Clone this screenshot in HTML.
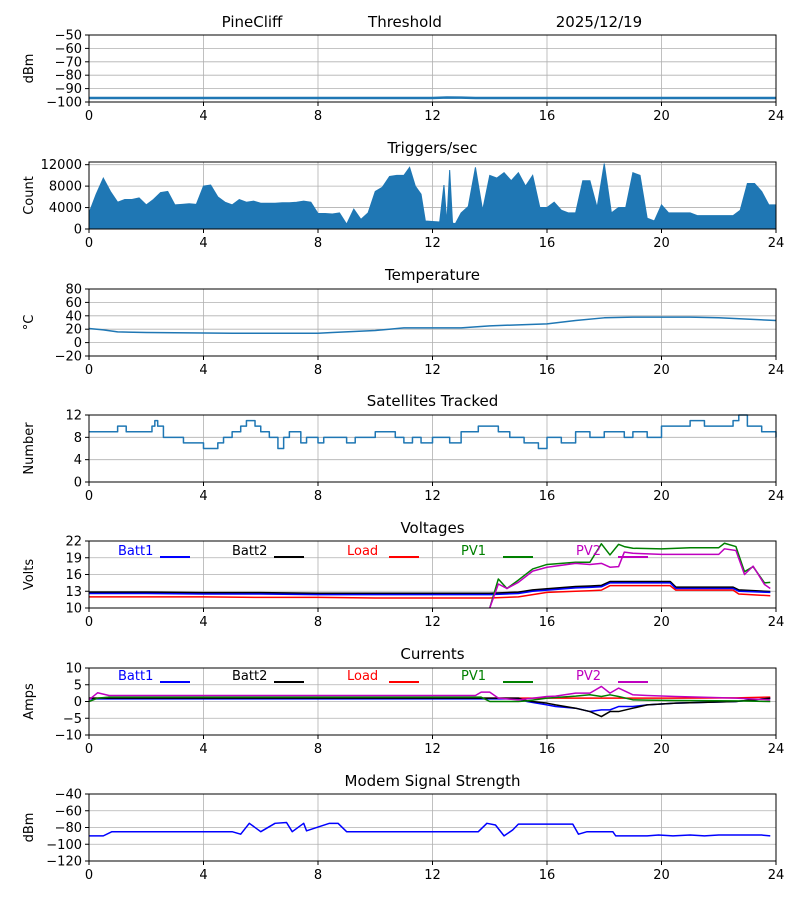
<!DOCTYPE html>
<html><head><meta charset="utf-8"><style>
body{margin:0;background:#fff}
svg text{font-family:"DejaVu Sans","Liberation Sans",sans-serif;}
</style></head><body>
<svg id="c" width="800" height="900" xmlns="http://www.w3.org/2000/svg"></svg>
<script>
// ---- data ----
const hdrNames=["PineCliff","Threshold","2025/12/19"];
const rssiT=[0,12,12.5,13,13.5,24];
const rssiV=[-97,-97,-96.6,-96.7,-97,-97];
const trigT=[0,0.25,0.5,0.75,1,1.25,1.5,1.75,2,2.25,2.5,2.75,3,3.25,3.5,3.75,4,4.25,4.5,4.75,5,5.25,5.5,5.75,6,6.25,6.5,6.75,7,7.25,7.5,7.75,8,8.25,8.5,8.75,9,9.25,9.5,9.75,10,10.25,10.5,10.75,11,11.2,11.4,11.6,11.75,12,12.25,12.4,12.5,12.6,12.7,12.8,13,13.25,13.5,13.75,14,14.25,14.5,14.75,15,15.25,15.5,15.75,16,16.25,16.5,16.75,17,17.25,17.5,17.75,18,18.25,18.5,18.75,19,19.25,19.5,19.75,20,20.25,20.5,20.75,21,21.25,21.5,21.75,22,22.25,22.5,22.75,23,23.25,23.5,23.75,24];
const trigV=[3000,6500,9500,7000,5000,5500,5500,5800,4500,5500,6800,7000,4500,4600,4700,4600,8000,8200,6000,5000,4500,5500,5000,5200,4800,4800,4800,4900,4900,5000,5200,5000,2900,2900,2800,3000,900,3700,1800,3000,7000,7800,9800,10000,10000,11500,8000,6500,1500,1400,1300,8200,1200,11000,1100,1000,3000,4200,11500,3500,10000,9500,10500,9000,10500,8000,10000,4000,4000,5000,3500,3000,3000,9000,9000,4000,12200,3000,4000,4000,10500,10000,2000,1500,4500,3000,3000,3000,3000,2500,2500,2500,2500,2500,2500,3500,8500,8500,7000,4500,4500];
const tempT=[0,0.5,1,2,5,8,8.5,10,11,13,14,16,17,18,19,21,22,23,24];
const tempV=[21,19,16,15,14,14,15,18,22,22,25,28,33,37,38,38,37,35,33];
const satT=[0,1,1.3,2.2,2.3,2.4,2.6,3.3,4,4.5,4.7,5,5.3,5.5,5.8,6,6.3,6.6,6.8,7,7.4,7.6,8,8.2,9,9.3,10,10.7,11,11.3,11.6,12,12.6,13,13.6,14.3,14.7,15.2,15.7,16,16.5,17,17.5,18,18.7,19,19.5,20,21,21.5,22.5,22.7,23,23.5,24];
const satV=[9,10,9,10,11,10,8,7,6,7,8,9,10,11,10,9,8,6,8,9,7,8,7,8,7,8,9,8,7,8,7,8,7,9,10,9,8,7,6,8,7,9,8,9,8,9,8,10,11,10,11,12,10,9,8];
const vT=[0,2,4,6,8,10,12,14,15,15.5,16,17,17.5,17.9,18.2,20.3,20.5,22.5,22.7,23.8];
const batt1V=[12.6,12.6,12.5,12.5,12.4,12.4,12.4,12.4,12.6,13,13.2,13.6,13.7,13.8,14.5,14.5,13.5,13.5,13,12.8];
const batt2V=[12.8,12.8,12.7,12.7,12.6,12.6,12.6,12.6,12.8,13.2,13.4,13.8,13.9,14,14.7,14.7,13.7,13.7,13.2,12.9];
const loadV=[12,12,12,11.9,11.9,11.8,11.8,11.8,12,12.4,12.8,13,13.1,13.2,14,14,13.2,13.2,12.5,12.2];
const pvT=[14,14.3,14.6,15,15.5,16,17,17.5,17.9,18.2,18.5,18.7,19,20,21,22,22.2,22.6,22.9,23.2,23.6,23.8];
const pv1V=[9,15.2,13.5,15,17,17.8,18.2,18.2,21.5,19.5,21.4,21,20.7,20.6,20.8,20.8,21.6,21,16.5,17.4,14.5,14.6];
const pv2V=[8,14.3,13.5,14.6,16.6,17.3,18,17.8,18,17.3,17.4,20,19.8,19.6,19.6,19.6,20.6,20.3,16,17.5,14.2,13.5];
const cT=[0,0.3,0.7,13.5,13.7,14,14.3,15,15.3,16,16.3,17,17.5,17.9,18.2,18.5,19,19.5,20.5,22.6,23.8];
const cBatt1=[0.8,0.8,0.8,0.8,0.8,0.8,0.8,0.8,0,-1,-1.5,-2,-3,-2.5,-2.5,-1.5,-1.5,-1,-0.5,0,1];
const cBatt2=[1,1,1,1,1,1,1,1,0.2,-0.5,-1,-2,-3,-4.5,-3,-3,-2,-1,-0.5,0,1];
const cLoad=[1,1,1,1,1,1,1,1,1,1,1,1,1,1,1,1,1,1,1,1.1,1.3];
const cPV1=[0,1,1.3,1.3,1.3,0,0,0,0.2,1,1.2,1.6,2,1.5,2,1.5,0.5,0.4,0.3,0.2,0];
const cPV2=[0.5,2.6,1.8,1.8,2.8,2.8,1,0.5,0.8,1.5,1.6,2.5,2.5,4.5,2.5,4,2,1.8,1.5,1,0.5];
const mT=[0,0.5,0.8,5,5.3,5.6,6,6.5,6.9,7.1,7.5,7.6,8.4,8.7,9,9.3,13.6,13.9,14.2,14.5,14.8,15,16.9,17.1,17.4,18.3,18.4,19.5,19.9,20.4,21,21.5,22,23.5,23.8];
const mV=[-90,-90,-85,-85,-88,-75,-85,-75,-74,-85,-75,-84,-75,-75,-85,-85,-85,-75,-77,-90,-83,-76,-76,-88,-85,-85,-90,-90,-89,-90,-89,-90,-89,-89,-90];
const xTicks=[0,4,8,12,16,20,24];
const legNames=["Batt1","Batt2","Load","PV1","PV2"];
const legColors=["#0000ff","#000000","#ff0000","#008000","#bf00bf"];

// ---- drawing ----
const svg=document.getElementById('c');
const NS="http://www.w3.org/2000/svg";
function el(tag,attrs,parent){const e=document.createElementNS(NS,tag);for(const k in attrs)e.setAttribute(k,attrs[k]);(parent||svg).appendChild(e);return e;}
function fmt(v){return v<0?'\u2212'+Math.abs(v):String(v);}
const X0=89,X1=776;
function xs(t){return X0+(X1-X0)*t/24;}
function panel(name,title,titleY,top,bot,ymin,ymax,yticks,ylabel){
  const g=el('g',{});
  
  
  const ys=v=>bot-(v-ymin)/(ymax-ymin)*(bot-top);
  xTicks.forEach(t=>{const l=el('line',{x1:xs(t),x2:xs(t),y1:top,y2:bot,stroke:'#b0b0b0','stroke-width':0.8},g);
    });
  yticks.forEach(v=>{const l=el('line',{x1:X0,x2:X1,y1:ys(v),y2:ys(v),stroke:'#b0b0b0','stroke-width':0.8},g);
    });
  const marks=el('g',{},g);
  
  
  const frame=el('rect',{x:X0,y:top,width:X1-X0,height:bot-top,fill:'none',stroke:'#000','stroke-width':1},g);
  
  xTicks.forEach(t=>{el('line',{x1:xs(t),x2:xs(t),y1:bot,y2:bot+4,stroke:'#000'},g);
    const tx=el('text',{x:xs(t),y:bot+18,'font-size':13,'text-anchor':'middle'},g);tx.textContent=t;
    });
  yticks.forEach(v=>{el('line',{x1:X0-4,x2:X0,y1:ys(v),y2:ys(v),stroke:'#000'},g);
    const tx=el('text',{x:X0-7,y:ys(v)+4.5,'font-size':13,'text-anchor':'end'},g);tx.textContent=fmt(v);
    });
  if(title){const tt=el('text',{x:(X0+X1)/2,y:titleY,'font-size':15,'text-anchor':'middle'},g);tt.textContent=title;
    }
  const cy=(top+bot)/2;
  const yl=el('text',{x:0,y:0,'font-size':13,'text-anchor':'middle',transform:`translate(33,${cy}) rotate(-90)`},g);yl.textContent=ylabel;
  
  return {ys,marks,top,bot};
}
function line(p,T,V,color,w,nm){
  const pts=T.map((t,i)=>xs(t)+','+Math.max(p.top,Math.min(p.bot,p.ys(V[i])))).join(' ');
  const l=el('polyline',{points:pts,fill:'none',stroke:color,'stroke-width':w,'stroke-linejoin':'round'},p.marks);
  
}
// header
const hx=[252,405,599];
hdrNames.forEach((s,i)=>{const t=el('text',{x:hx[i],y:27,'font-size':15,'text-anchor':'middle'});t.textContent=s;
  });

let p=panel('rssi',null,0,35,102,-100,-50,[-100,-90,-80,-70,-60,-50],'dBm');
line(p,rssiT,rssiV,'#1f77b4',2.5,'rssi-line');

p=panel('triggers','Triggers/sec',153,162,229,0,12500,[0,4000,8000,12000],'Count');
{const pts=[xs(0)+','+p.ys(0)].concat(trigT.map((t,i)=>xs(t)+','+p.ys(trigV[i]))).concat([xs(24)+','+p.ys(0)]).join(' ');
 const a=el('polygon',{points:pts,fill:'#1f77b4',stroke:'#1f77b4','stroke-width':1},p.marks);
 }

p=panel('temperature','Temperature',280,289,356,-20,80,[-20,0,20,40,60,80],'°C');
line(p,tempT,tempV,'#1f77b4',1.5,'temperature-line');

p=panel('satellites','Satellites Tracked',406,415,482,0,12,[0,4,8,12],'Number');
{const T=[],V=[];satT.forEach((t,i)=>{if(i>0){T.push(t);V.push(satV[i-1]);}T.push(t);V.push(satV[i]);});
 line(p,T,V,'#1f77b4',1.5,'satellites-line');}

function legend(py){
  const lx=[118,232,347,461,576];
  legNames.forEach((n,i)=>{const g=el('g',{});
    
    const t=el('text',{x:lx[i],y:py,'font-size':13,fill:legColors[i]},g);t.textContent=n;
    el('line',{x1:lx[i]+42,x2:lx[i]+72,y1:py+2,y2:py+2,stroke:legColors[i],'stroke-width':2},g);});
}
p=panel('voltages','Voltages',533,541,608,10,22,[10,13,16,19,22],'Volts');
line(p,vT,batt2V,'#000',2,'batt2-voltage-line');
line(p,vT,batt1V,'#0000ff',1.5,'batt1-voltage-line');
line(p,vT,loadV,'#ff0000',1.5,'load-voltage-line');
line(p,pvT,pv1V,'#008000',1.5,'pv1-voltage-line');
line(p,pvT,pv2V,'#bf00bf',1.5,'pv2-voltage-line');
legend(555);

p=panel('currents','Currents',659,668,735,-10,10,[-10,-5,0,5,10],'Amps');
line(p,cT,cLoad,'#ff0000',1.5,'load-current-line');
line(p,cT,cBatt1,'#0000ff',1.5,'batt1-current-line');
line(p,cT,cBatt2,'#000',1.5,'batt2-current-line');
line(p,cT,cPV1,'#008000',1.5,'pv1-current-line');
line(p,cT,cPV2,'#bf00bf',1.5,'pv2-current-line');
legend(680);

p=panel('modem','Modem Signal Strength',786,794,861,-120,-40,[-120,-100,-80,-60,-40],'dBm');
line(p,mT,mV,'#0000ff',1.5,'modem-signal-line');
</script>
</body></html>
